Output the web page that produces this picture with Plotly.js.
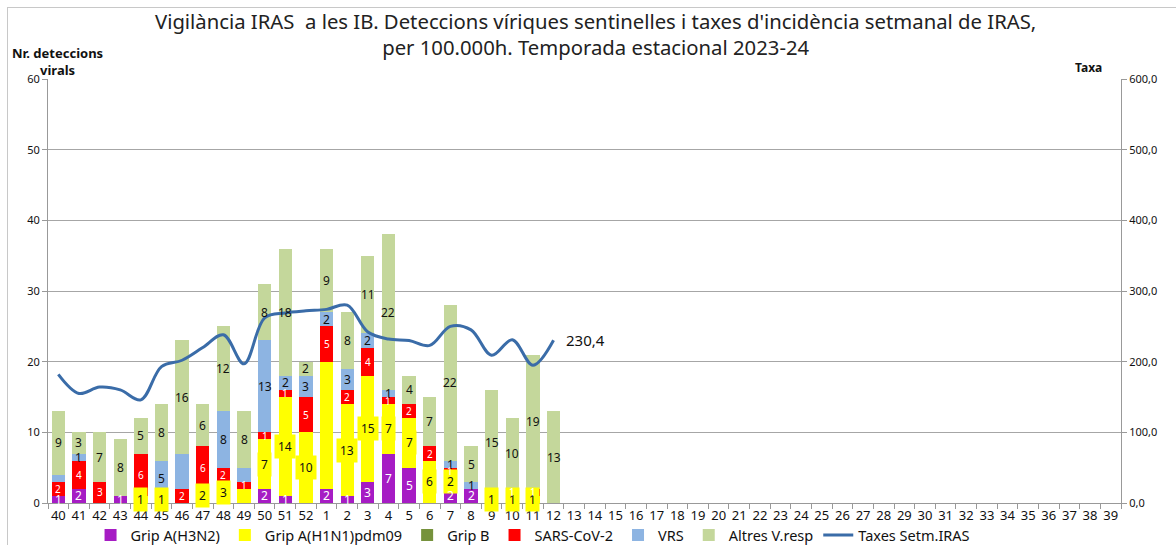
<!DOCTYPE html>
<html>
<head>
<meta charset="utf-8">
<script src="https://cdn.plot.ly/plotly-3.0.1.min.js"></script>
<style>
  html, body { margin: 0; padding: 0; background: #fff; }
  #wrap { position: relative; width: 1176px; height: 545px; }
  #chart { position: absolute; left: 0; top: 0; width: 1176px; height: 545px; }
  #frame { position: absolute; left: 7px; top: 7px; width: 1180px; height: 550px;
           border: 1px solid #c8c8c8; pointer-events: none; }
</style>
</head>
<body>
<div id="wrap"><div id="chart"></div><div id="frame"></div></div>
<script>
// ---- data ----
const weeks = ['40','41','42','43','44','45','46','47','48','49','50','51','52',
  '1','2','3','4','5','6','7','8','9','10','11','12','13','14','15','16','17','18',
  '19','20','21','22','23','24','25','26','27','28','29','30','31','32','33','34',
  '35','36','37','38','39'];
const dataWeeks = weeks.slice(0, 25);
const h3n2   = [1,2,0,1,0,0,0,0,0,0,2,1,0,2,1,3,7,5,0,2,2,0,0,0,0];
const h1n1   = [0,0,0,0,1,1,0,2,3,2,7,14,10,18,13,15,7,7,6,2,0,1,1,1,0];
const gripB  = [0,0,0,0,0,0,0,0,0,0,0,0,0,0,0,0,0,0,0,0,0,0,0,0,0];
const sars   = [2,4,3,0,6,0,2,6,2,1,1,1,5,5,2,4,1,2,2,1,0,0,1,1,0];
const vrs    = [1,1,0,0,0,5,5,0,8,2,13,2,3,2,3,2,1,0,0,1,1,0,0,0,0];
const altres = [9,3,7,8,5,8,16,6,12,8,8,18,2,9,8,11,22,4,7,22,5,15,10,19,13];
const rates  = [182,155,164,160,146,193,202,220,238,197,262,269,272,274,280,242,232,230,223,250,245,209,231,195,230.4];
const hiddenLabels = [['vrs','40'],['vrs','46'],['h1n1','49'],['vrs','49'],['h1n1','1']];

const seriesNames = ['Grip A(H3N2)','Grip A(H1N1)pdm09','Grip B','SARS-CoV-2','VRS','Altres V.resp'];
const lineName = 'Taxes Setm.IRAS';

// ---- styles ----
const FONT = 'Noto Sans, Open Sans, DejaVu Sans, sans-serif';
const series = [
  {key:'h3n2',  vals:h3n2,   color:'#A61CC4', txt:'#ffffff', size:12, bg:null},
  {key:'h1n1',  vals:h1n1,   color:'#FFFF00', txt:'#111111', size:12, bg:'#FFFF00'},
  {key:'gripB', vals:gripB,  color:'#76923C', txt:'#111111', size:12, bg:null},
  {key:'sars',  vals:sars,   color:'#FF0000', txt:'#ffffff', size:10, bg:null},
  {key:'vrs',   vals:vrs,    color:'#8DB4E2', txt:'#111111', size:12, bg:null},
  {key:'altres',vals:altres, color:'#C4D79B', txt:'#111111', size:12, bg:null}
];

const traces = series.map((s, i) => ({
  type: 'bar', name: seriesNames[i], x: dataWeeks, y: s.vals,
  marker: {color: s.color, line: {width: 0}}, hoverinfo: 'skip'
}));
traces.push({
  type: 'scatter', mode: 'lines', name: lineName, x: dataWeeks, y: rates, yaxis: 'y2',
  line: {color: '#3A6CA8', width: 3, shape: 'spline', smoothing: 1}, hoverinfo: 'skip'
});

// data labels (centred on each stacked segment); x given as category index
const annotations = [];
const cum = dataWeeks.map(() => 0);
const isHidden = (k, w) => hiddenLabels.some(h => h[0] === k && h[1] === w);
const labelLayers = [];
series.forEach(s => {
  const layer = [];
  s.vals.forEach((v, j) => {
    if (v > 0 && !isHidden(s.key, dataWeeks[j])) {
      const a = {
        x: weeks.indexOf(dataWeeks[j]), y: cum[j] + v / 2, xref: 'x', yref: 'y', text: String(v),
        showarrow: false, font: {family: FONT, size: s.size, color: s.txt}
      };
      if (s.bg) { a.bgcolor = s.bg; a.borderpad = 3; }
      layer.push(a);
    }
    cum[j] += v;
  });
  labelLayers.push(layer);
});
annotations.push(...labelLayers[1]);
[0,2,3,4,5].forEach(i => annotations.push(...labelLayers[i]));

// last rate value label
const last = rates.length - 1;
annotations.push({
  x: weeks.indexOf(dataWeeks[last]), y: rates[last], xref: 'x', yref: 'y2',
  text: rates[last].toFixed(1).replace('.', ','), showarrow: false,
  xanchor: 'left', xshift: 10, font: {family: FONT, size: 15, color: '#111'}
});
// axis titles
annotations.push({
  xref: 'paper', yref: 'paper', x: 0.0084, y: 1.042, text: '<b>Nr. deteccions<br>virals</b>',
  showarrow: false, align: 'center', xanchor: 'center', yanchor: 'middle',
  font: {family: FONT, size: 13, color: '#111'}
});
annotations.push({
  xref: 'paper', yref: 'paper', x: 0.970, y: 1.028, text: '<b>Taxa</b>',
  showarrow: false, xanchor: 'center', yanchor: 'middle',
  font: {family: FONT, size: 12, color: '#111'}
});
// title as two centred lines
annotations.push({
  xref: 'paper', yref: 'paper', x: 0.5105, y: 1.105, xanchor: 'center', yanchor: 'middle',
  showarrow: false, align: 'center',
  text: "Vigilància IRAS  a les IB. Deteccions víriques sentinelles i taxes d'incidència setmanal de IRAS,<br>per 100.000h. Temporada estacional 2023-24",
  font: {family: FONT, size: 20.3, color: '#222'}
});

const layout = {
  width: 1176, height: 545,
  margin: {l: 48, r: 55, t: 79, b: 42},
  paper_bgcolor: 'rgba(0,0,0,0)', plot_bgcolor: '#fff',
  separators: ', ',
  barmode: 'stack', bargap: 0.355,
  showlegend: true,
  font: {family: FONT, color: '#222'},
  xaxis: {
    type: 'category', categoryorder: 'array', categoryarray: weeks,
    range: [-0.5, weeks.length - 0.5],
    showline: true, linecolor: '#999', linewidth: 1,
    ticks: 'outside', tickson: 'boundaries', ticklen: 5, tickcolor: '#999',
    tickangle: 0,
    tickfont: {family: FONT, size: 13, color: '#111'},
    showgrid: false, zeroline: false, fixedrange: true
  },
  yaxis: {
    range: [0, 60], dtick: 10, showline: true, linecolor: '#999', linewidth: 1,
    ticks: 'outside', ticklen: 5, tickcolor: '#999',
    gridcolor: '#A6A6A6', gridwidth: 1, zeroline: false,
    tickfont: {family: FONT, size: 11, color: '#111'}
  },
  yaxis2: {
    overlaying: 'y', side: 'right', range: [0, 600], dtick: 100, tickformat: '.1f',
    showline: true, linecolor: '#999', linewidth: 1,
    ticks: 'outside', ticklen: 5, tickcolor: '#999',
    showgrid: false, zeroline: false,
    tickfont: {family: FONT, size: 11, color: '#111'}
  },
  legend: {
    orientation: 'h', xref: 'container', yref: 'container',
    x: 0.077, xanchor: 'left', y: 0.018, yanchor: 'middle',
    font: {family: FONT, size: 14.5, color: '#111'}, traceorder: 'normal',
    itemwidth: 30, tracegroupgap: 0, bgcolor: 'rgba(0,0,0,0)', borderwidth: 0
  },
  annotations: annotations
};

Plotly.newPlot('chart', traces, layout, {staticPlot: true, displayModeBar: false});
</script>
</body>
</html>
